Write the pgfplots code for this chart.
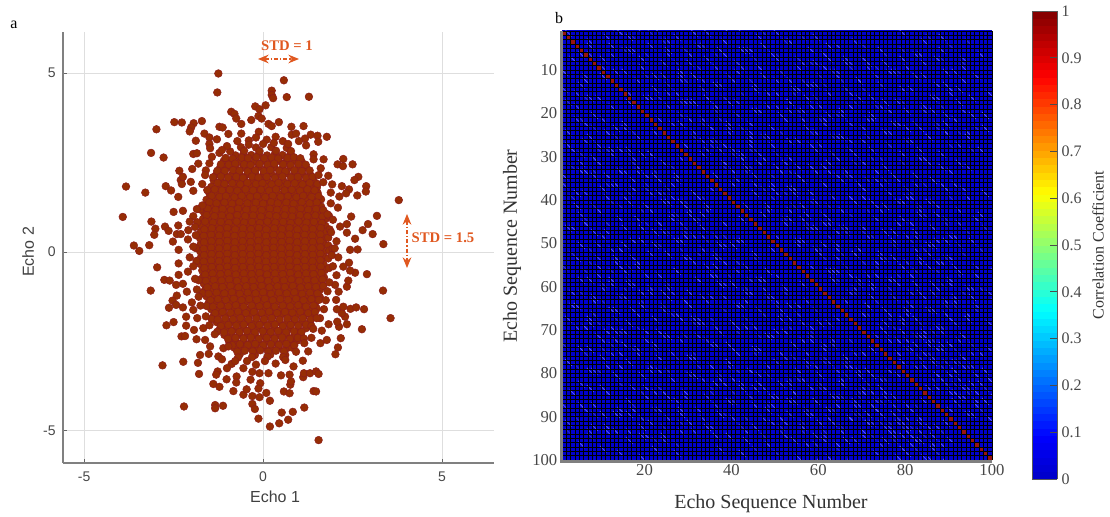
\documentclass[border=0pt]{standalone}
\usepackage{pgfplots}
\usepackage{pgfplotstable}
\usepackage{fontspec}
\setmainfont{Liberation Serif}
\newfontfamily\hel{Liberation Sans}
\pgfplotsset{compat=1.18}
\usetikzlibrary{arrows.meta}
\definecolor{ptfill}{RGB}{150,45,5}
\definecolor{ptedge}{RGB}{140,28,28}
\definecolor{anno}{RGB}{224,88,32}
\definecolor{brightst}{RGB}{85,85,255}
\definecolor{dimst}{RGB}{50,50,205}
\definecolor{diagc}{RGB}{150,20,15}
\newcommand\cellrun[2]{\pgfpathmoveto{\pgfpoint{#1*3.258pt-2.45pt}{#2*3.25pt+2.45pt}}\pgfpathlineto{\pgfpoint{#1*3.258pt+2.45pt}{#2*3.25pt-2.45pt}}}
\pgfdeclareplotmark{runc}{\pgfsetlinewidth{0.6pt}\cellrun{0}{0}\cellrun{4}{1}\cellrun{-2}{-3}\cellrun{-5}{2}\cellrun{3}{-4}\pgfusepathqstroke}
\pgfplotstableread{
x y
-.62 2.93
-.2 2.92
.23 2.93
.66 2.91
-.77 2.7
-.55 2.74
-.33 2.71
-.12 2.73
.11 2.7
.33 2.74
.54 2.71
.76 2.73
-1.1 2.54
-.88 2.56
-.66 2.52
-.44 2.55
-.23 2.53
.01 2.56
.22 2.52
.44 2.55
.65 2.53
.87 2.56
1.08 2.52
-1.2 2.36
-.99 2.38
-.77 2.35
-.55 2.37
-.34 2.34
-.12 2.38
.1 2.35
.32 2.37
.54 2.34
.76 2.38
.98 2.35
1.2 2.37
-1.3 2.18
-1.09 2.2
-.87 2.16
-.66 2.19
-.44 2.17
-.22 2.2
.01 2.16
.23 2.19
.44 2.17
.66 2.2
.88 2.16
1.09 2.19
1.31 2.17
-1.38 2.0
-1.17 1.98
-.95 2.02
-.74 1.99
-.52 2.01
-.3 1.98
-.08 2.02
.13 1.99
.35 2.01
.57 1.98
.79 2.02
1.0 1.99
1.22 2.01
1.42 1.98
-1.45 1.82
-1.25 1.84
-1.04 1.8
-.82 1.83
-.6 1.81
-.38 1.84
-.17 1.8
.05 1.83
.27 1.81
.49 1.84
.7 1.8
.92 1.83
1.14 1.81
1.35 1.84
1.5 1.8
-1.5 1.64
-1.3 1.62
-1.09 1.66
-.87 1.63
-.65 1.65
-.43 1.62
-.22 1.66
0 1.63
.22 1.65
.44 1.62
.65 1.66
.87 1.63
1.09 1.65
1.3 1.62
1.52 1.66
-1.58 1.46
-1.37 1.48
-1.16 1.44
-.94 1.47
-.72 1.45
-.5 1.48
-.29 1.44
-.07 1.47
.15 1.45
.37 1.48
.58 1.44
.8 1.47
1.02 1.45
1.23 1.48
1.45 1.44
1.62 1.47
-1.62 1.28
-1.42 1.26
-1.2 1.3
-.98 1.27
-.77 1.29
-.55 1.26
-.33 1.3
-.11 1.27
.1 1.29
.32 1.26
.54 1.3
.76 1.27
.97 1.29
1.19 1.26
1.41 1.3
1.62 1.27
-1.65 1.1
-1.45 1.12
-1.24 1.08
-1.02 1.11
-.8 1.09
-.58 1.12
-.37 1.08
-.15 1.11
.07 1.09
.29 1.12
.5 1.08
.72 1.11
.94 1.09
1.15 1.12
1.37 1.08
1.59 1.11
1.72 1.09
-1.68 .92
-1.47 .9
-1.26 .94
-1.04 .91
-.82 .93
-.6 .9
-.39 .94
-.17 .91
.05 .93
.27 .9
.48 .94
.7 .91
.92 .93
1.13 .9
1.35 .94
1.57 .91
1.75 .93
-1.72 .74
-1.52 .76
-1.3 .72
-1.08 .75
-.87 .73
-.65 .76
-.43 .72
-.21 .75
0 .73
.22 .76
.44 .72
.66 .75
.87 .73
1.09 .76
1.31 .72
1.52 .75
1.74 .73
-1.74 .56
-1.54 .54
-1.33 .58
-1.11 .55
-.89 .57
-.67 .54
-.46 .58
-.24 .55
-.02 .57
.2 .54
.41 .58
.63 .55
.85 .57
1.06 .54
1.28 .58
1.5 .55
1.72 .57
-1.76 .38
-1.56 .4
-1.35 .36
-1.13 .39
-.91 .37
-.69 .4
-.48 .36
-.26 .39
-.04 .37
.18 .4
.39 .36
.61 .39
.83 .37
1.04 .4
1.26 .36
1.48 .39
1.69 .37
1.82 .4
-1.75 .2
-1.54 .18
-1.33 .22
-1.11 .19
-.9 .21
-.68 .18
-.46 .22
-.24 .19
-.03 .21
.19 .18
.41 .22
.62 .19
.84 .21
1.06 .18
1.28 .22
1.49 .19
1.71 .21
1.82 .18
-1.76 .02
-1.56 .04
-1.35 0
-1.13 .03
-.91 .01
-.69 .04
-.48 0
-.26 .03
-.04 .01
.18 .04
.39 0
.61 .03
.83 .01
1.04 .04
1.26 0
1.48 .03
1.69 .01
1.85 .04
-1.74 -.16
-1.54 -.18
-1.33 -.14
-1.11 -.17
-.9 -.15
-.68 -.18
-.46 -.14
-.24 -.17
-.03 -.15
.19 -.18
.41 -.14
.62 -.17
.84 -.15
1.06 -.18
1.28 -.14
1.49 -.17
1.71 -.15
1.82 -.18
-1.75 -.34
-1.56 -.32
-1.35 -.36
-1.13 -.33
-.91 -.35
-.69 -.32
-.48 -.36
-.26 -.33
-.04 -.35
.18 -.32
.39 -.36
.61 -.33
.83 -.35
1.04 -.32
1.26 -.36
1.48 -.33
1.69 -.35
-1.7 -.52
-1.54 -.54
-1.33 -.5
-1.11 -.53
-.89 -.51
-.67 -.54
-.46 -.5
-.24 -.53
-.02 -.51
.2 -.54
.41 -.5
.63 -.53
.85 -.51
1.06 -.54
1.28 -.5
1.5 -.53
1.72 -.51
-1.68 -.7
-1.52 -.68
-1.3 -.72
-1.08 -.69
-.87 -.71
-.65 -.68
-.43 -.72
-.21 -.69
0 -.71
.22 -.68
.44 -.72
.66 -.69
.87 -.71
1.09 -.68
1.31 -.72
1.52 -.69
1.7 -.71
-1.66 -.88
-1.47 -.9
-1.26 -.86
-1.04 -.89
-.82 -.87
-.6 -.9
-.39 -.86
-.17 -.89
.05 -.87
.27 -.9
.48 -.86
.7 -.89
.92 -.87
1.13 -.9
1.35 -.86
1.57 -.89
-1.62 -1.06
-1.45 -1.04
-1.24 -1.08
-1.02 -1.05
-.8 -1.07
-.58 -1.04
-.37 -1.08
-.15 -1.05
.07 -1.07
.29 -1.04
.5 -1.08
.72 -1.05
.94 -1.07
1.15 -1.04
1.37 -1.08
1.59 -1.05
-1.58 -1.24
-1.42 -1.26
-1.2 -1.22
-.98 -1.25
-.77 -1.23
-.55 -1.26
-.33 -1.22
-.11 -1.25
.1 -1.23
.32 -1.26
.54 -1.22
.76 -1.25
.97 -1.23
1.19 -1.26
1.41 -1.22
1.58 -1.25
-1.52 -1.42
-1.37 -1.4
-1.16 -1.44
-.94 -1.41
-.72 -1.43
-.5 -1.4
-.29 -1.44
-.07 -1.41
.15 -1.43
.37 -1.4
.58 -1.44
.8 -1.41
1.02 -1.43
1.23 -1.4
1.45 -1.44
-1.45 -1.6
-1.3 -1.62
-1.09 -1.58
-.87 -1.61
-.65 -1.59
-.43 -1.62
-.22 -1.58
0 -1.61
.22 -1.59
.44 -1.62
.65 -1.58
.87 -1.61
1.09 -1.59
1.3 -1.62
1.5 -1.58
-1.38 -1.78
-1.25 -1.76
-1.04 -1.8
-.82 -1.77
-.6 -1.79
-.38 -1.76
-.17 -1.8
.05 -1.77
.27 -1.79
.49 -1.76
.7 -1.8
.92 -1.77
1.14 -1.79
1.35 -1.76
-1.3 -1.96
-1.09 -1.98
-.87 -1.94
-.66 -1.97
-.44 -1.95
-.22 -1.98
.01 -1.94
.23 -1.97
.44 -1.95
.66 -1.98
.88 -1.94
1.09 -1.97
1.31 -1.95
-1.2 -2.14
-.99 -2.12
-.77 -2.16
-.55 -2.13
-.34 -2.15
-.12 -2.12
.1 -2.16
.32 -2.13
.54 -2.15
.76 -2.12
.98 -2.16
1.2 -2.13
-1.08 -2.32
-.88 -2.34
-.66 -2.3
-.44 -2.33
-.23 -2.31
.01 -2.34
.22 -2.3
.44 -2.33
.65 -2.31
.87 -2.34
1.05 -2.3
-.95 -2.5
-.77 -2.48
-.55 -2.52
-.33 -2.49
-.12 -2.51
.11 -2.48
.33 -2.52
.54 -2.49
.76 -2.51
.95 -2.48
-.8 -2.68
-.62 -2.7
-.41 -2.66
-.2 -2.69
.02 -2.67
.23 -2.7
.44 -2.66
.66 -2.69
.8 -2.67
-.65 -2.86
-.23 -2.88
.2 -2.87
.62 -2.88
-.92 2.81
-.53 2.83
-.1 2.82
.36 2.83
.78 2.82
-1.05 2.63
-.85 2.61
-.6 2.64
-.42 2.62
-.19 2.65
.03 2.62
.24 2.64
.42 2.61
.68 2.63
.86 2.65
1.04 2.62
-1.18 2.45
-.96 2.44
-.78 2.47
-.53 2.45
-.35 2.43
-.1 2.46
.13 2.44
.31 2.47
.56 2.45
.77 2.43
.99 2.46
1.19 2.44
-1.28 2.27
-1.07 2.26
-.84 2.29
-.66 2.27
-.43 2.25
-.22 2.28
.02 2.26
.2 2.29
.45 2.27
.62 2.25
.87 2.28
1.08 2.26
1.3 2.28
-1.4 2.09
-1.18 2.11
-.98 2.08
-.75 2.1
-.56 2.07
-.31 2.11
-.13 2.08
.1 2.1
.33 2.07
.54 2.11
.78 2.08
.97 2.1
1.2 2.07
1.38 2.1
-1.27 1.93
-1.08 1.9
-.86 1.92
-.64 1.89
-.44 1.93
-.2 1.9
-.02 1.92
.24 1.89
.43 1.93
.68 1.9
.88 1.92
1.1 1.89
1.3 1.93
1.52 1.9
-1.56 1.73
-1.35 1.75
-1.15 1.72
-.93 1.74
-.72 1.71
-.49 1.75
-.28 1.72
-.06 1.74
.17 1.71
.36 1.75
.6 1.72
.8 1.74
1.03 1.71
1.24 1.75
1.44 1.72
-1.44 1.57
-1.22 1.54
-1.04 1.56
-.8 1.53
-.6 1.57
-.36 1.54
-.17 1.56
.06 1.53
.27 1.57
.49 1.54
.69 1.56
.93 1.53
1.12 1.57
1.35 1.54
1.55 1.56
-1.5 1.39
-1.3 1.36
-1.08 1.38
-.87 1.35
-.66 1.39
-.44 1.36
-.2 1.38
0 1.35
.22 1.39
.41 1.36
.65 1.38
.85 1.35
1.08 1.39
1.3 1.36
1.5 1.38
-1.76 1.19
-1.55 1.21
-1.33 1.18
-1.13 1.2
-.9 1.17
-.7 1.21
-.47 1.18
-.26 1.2
-.04 1.17
.19 1.21
.39 1.18
.62 1.2
.82 1.17
1.05 1.21
1.26 1.18
1.48 1.2
1.68 1.17
-1.58 1.03
-1.36 1.0
-1.15 1.02
-.93 .99
-.72 1.03
-.5 1.0
-.28 1.02
-.06 .99
.17 1.03
.37 1.0
.6 1.02
.81 .99
1.03 1.03
1.24 1.0
1.46 1.02
1.66 .99
1.84 1.01
-1.84 .83
-1.62 .85
-1.4 .82
-1.18 .84
-.96 .81
-.74 .85
-.53 .82
-.31 .84
-.09 .81
.12 .85
.34 .82
.56 .84
.77 .81
.99 .85
1.21 .82
1.42 .84
1.64 .81
-1.64 .63
-1.43 .66
-1.21 .64
-1 .67
-.78 .63
-.56 .66
-.34 .64
-.12 .67
.09 .63
.31 .66
.53 .64
.74 .67
.96 .63
1.18 .66
1.39 .64
1.61 .67
1.86 .63
-1.88 .47
-1.66 .45
-1.45 .48
-1.23 .46
-1.01 .49
-.8 .45
-.58 .48
-.36 .46
-.14 .49
.08 .45
.29 .48
.51 .46
.73 .49
.94 .45
1.16 .48
1.38 .46
1.6 .49
-1.65 .27
-1.44 .3
-1.22 .28
-1 .31
-.79 .27
-.57 .3
-.35 .28
-.13 .31
.09 .27
.3 .3
.52 .28
.74 .31
.95 .27
1.17 .3
1.39 .28
1.6 .31
-1.88 .11
-1.66 .09
-1.45 .12
-1.23 .1
-1.01 .13
-.8 .09
-.58 .12
-.36 .1
-.14 .13
.08 .09
.29 .12
.51 .1
.73 .13
.94 .09
1.16 .12
1.38 .1
1.6 .13
1.94 .09
-1.65 -.09
-1.44 -.06
-1.22 -.08
-1 -.05
-.79 -.09
-.57 -.06
-.35 -.08
-.13 -.05
.09 -.09
.3 -.06
.52 -.08
.74 -.05
.95 -.09
1.17 -.06
1.39 -.08
1.6 -.05
1.92 -.09
-1.86 -.25
-1.66 -.27
-1.45 -.24
-1.23 -.26
-1.01 -.23
-.8 -.27
-.58 -.24
-.36 -.26
-.14 -.23
.08 -.27
.29 -.24
.51 -.26
.73 -.23
.94 -.27
1.16 -.24
1.38 -.26
1.6 -.23
-1.64 -.45
-1.43 -.42
-1.21 -.44
-1 -.41
-.78 -.45
-.56 -.42
-.34 -.44
-.12 -.41
.09 -.45
.31 -.42
.53 -.44
.74 -.41
.96 -.45
1.18 -.42
1.39 -.44
1.61 -.41
1.84 -.45
-1.62 -.63
-1.41 -.6
-1.19 -.62
-.98 -.59
-.76 -.63
-.54 -.6
-.32 -.62
-.1 -.59
.11 -.63
.33 -.6
.55 -.62
.76 -.59
.98 -.63
1.2 -.6
1.41 -.62
1.63 -.59
-1.8 -.79
-1.6 -.81
-1.38 -.78
-1.16 -.8
-.95 -.77
-.73 -.81
-.51 -.78
-.29 -.8
-.07 -.77
.14 -.81
.36 -.78
.58 -.8
.79 -.77
1.01 -.81
1.23 -.78
1.44 -.8
1.66 -.77
-1.56 -.99
-1.34 -.96
-1.13 -.98
-.91 -.95
-.69 -.99
-.47 -.96
-.26 -.98
-.04 -.95
.18 -.99
.4 -.96
.61 -.98
.83 -.95
1.05 -.99
1.26 -.96
1.48 -.98
1.68 -.95
-1.7 -1.15
-1.52 -1.17
-1.3 -1.14
-1.08 -1.16
-.87 -1.13
-.65 -1.17
-.43 -1.14
-.21 -1.16
0 -1.13
.22 -1.17
.44 -1.14
.66 -1.16
.87 -1.13
1.09 -1.17
1.31 -1.14
1.52 -1.16
-1.47 -1.35
-1.26 -1.32
-1.04 -1.34
-.82 -1.31
-.6 -1.35
-.39 -1.32
-.17 -1.34
.05 -1.31
.27 -1.35
.48 -1.32
.7 -1.34
.92 -1.31
1.13 -1.35
1.35 -1.32
1.56 -1.34
-1.58 -1.51
-1.4 -1.53
-1.19 -1.5
-.97 -1.52
-.76 -1.49
-.54 -1.53
-.32 -1.5
-.1 -1.52
.11 -1.49
.33 -1.53
.55 -1.5
.76 -1.52
.98 -1.49
1.2 -1.53
1.41 -1.5
-1.34 -1.71
-1.13 -1.68
-.91 -1.7
-.7 -1.67
-.48 -1.71
-.26 -1.68
-.04 -1.7
.17 -1.67
.39 -1.71
.61 -1.68
.82 -1.7
1.04 -1.67
1.26 -1.71
1.45 -1.68
-1.44 -1.87
-1.27 -1.89
-1.06 -1.86
-.84 -1.88
-.63 -1.85
-.41 -1.89
-.19 -1.86
.03 -1.88
.24 -1.85
.46 -1.89
.68 -1.86
.89 -1.88
1.11 -1.85
1.33 -1.89
-1.18 -2.07
-.97 -2.04
-.75 -2.06
-.54 -2.03
-.32 -2.07
-.1 -2.04
.12 -2.06
.33 -2.03
.55 -2.07
.77 -2.04
.98 -2.06
1.2 -2.03
1.35 -2.07
-1.28 -2.23
-1.09 -2.25
-.88 -2.22
-.66 -2.24
-.45 -2.21
-.23 -2.25
-.01 -2.22
.21 -2.24
.42 -2.21
.64 -2.25
.86 -2.22
1.07 -2.24
-.98 -2.43
-.77 -2.4
-.55 -2.42
-.34 -2.39
-.12 -2.43
.1 -2.4
.32 -2.42
.53 -2.39
.75 -2.43
.97 -2.4
1.14 -2.42
-.86 -2.61
-.65 -2.58
-.43 -2.6
-.22 -2.57
0 -2.61
.22 -2.58
.44 -2.6
.65 -2.57
.87 -2.61
-.72 -2.79
-.51 -2.76
-.29 -2.78
-.08 -2.75
.14 -2.79
.36 -2.76
.58 -2.78
.92 -2.79
-.7 -2.95
-.31 -2.94
.12 -2.93
.56 -2.94
}\coretable
\pgfplotstableread{
x y
-1.25 4.99
.58 4.8
-1.28 4.46
.24 4.51
.24 4.39
.28 4.3
.66 4.33
1.28 4.34
-.22 4.07
.07 4.1
-.1 3.99
-.89 3.92
-.8 3.86
-.75 3.73
-.33 3.69
-.13 3.8
-.04 3.73
.44 3.63
-2.48 3.63
-2.27 3.62
-1.71 3.66
-1.94 3.6
-2.01 3.48
-2.05 3.37
-2.98 3.43
-1.22 3.5
-1.13 3.48
-.61 3.58
.15 3.58
.24 3.52
.79 3.5
1.13 3.52
-.12 3.36
-1.64 3.31
-.97 3.3
-.61 3.31
.8 3.28
.92 3.31
1.33 3.28
1.52 3.25
1.78 3.22
1.17 3.17
1.54 3.08
-1.5 3.2
-1.29 3.15
-1.88 3.11
-1.5 3.02
-1.01 2.96
-1.48 2.9
-3.13 2.77
-2.78 2.64
-1.95 2.74
-1.85 2.76
-1.22 2.77
-1.43 2.66
1.41 2.73
1.2 2.98
1.69 2.59
1.41 2.59
2.24 2.6
2.08 2.45
2.23 2.4
2.5 2.45
-1.81 2.47
-1.5 2.48
1.61 2.34
-2.34 2.27
-1.98 2.32
-1.6 2.28
1.82 2.13
2.66 2.1
2.55 2.01
2.88 1.84
2.87 1.69
2.4 1.75
2.32 1.64
2.63 1.58
2.2 1.84
2.13 1.55
1.93 1.89
1.89 1.66
3.79 1.45
2.09 1.24
1.89 1.36
3.18 1.01
2.46 .99
2.93 .78
3.06 .5
2.78 .61
3.36 .22
2.34 .78
2.15 .71
2.34 .54
2.57 .37
2.64 .07
2.43 .06
-3.83 1.83
-3.29 1.66
-2.72 1.84
-2.57 1.72
-2.37 1.54
-2.3 2.01
-2.24 2.1
-2.27 1.9
-2.02 1.96
-1.95 1.71
-3.92 .98
-2.5 1.12
-2.24 1.15
-3.12 .85
-3.01 .65
-3.04 .48
-2.74 .71
-2.64 .59
-2.37 .74
-2.41 .5
-2.3 .5
-2.09 .61
-2.52 .29
-3.61 .18
-3.46 .03
-3.18 .19
-2.36 .06
-2.96 -.43
-2.36 -.32
-2.76 -.78
-2.61 -.8
-2.36 -.64
-2.43 -.92
-2.24 -.89
-3.14 -1.08
-2.41 -1.22
-2.13 -1.11
-2.53 -1.36
-2.43 -1.48
-2.63 -1.56
-2.24 -1.55
-1.99 -1.41
-1.95 -1.62
-2.15 -1.81
-1.84 -1.85
-2.5 -1.96
-2.7 -2.05
-2.15 -2.06
-1.93 -2.18
-2.28 -2.36
-2.18 -2.35
-1.86 -2.44
-1.62 -2.46
-1.67 -2.13
-1.48 -2.64
-1.52 -2.85
-1.76 -2.88
-2.81 -3.17
-2.23 -3.07
-1.82 -3.1
-1.79 -3.41
-1.25 -2.92
-1.11 -2.69
-.97 -2.64
-1.15 -3
-.88 -3.13
-1.01 -3.25
-1.27 -3.34
-1.31 -3.43
-1.02 -3.56
-1.39 -3.69
-1.22 -3.77
-.74 -3.48
-.75 -3.65
-.83 -3.89
-.55 -3.99
-.46 -3.84
-.35 -3.57
-.08 -3.67
-.13 -3.82
-.3 -4.03
-.1 -4.06
.09 -3.94
.19 -4.16
-.3 -4.25
-.23 -4.39
-2.21 -4.32
-1.34 -4.28
-1.34 -4.37
-1.12 -4.3
-.13 -4.66
.52 -4.49
.83 -4.47
1.15 -4.35
.7 -4.69
.45 -4.79
.19 -4.88
1.55 -5.26
.58 -3.9
.74 -3.95
1.41 -3.89
1.48 -3.9
.76 -3.71
.78 -3.62
1.12 -3.5
1.14 -3.39
1.31 -3.39
1.48 -3.34
1.55 -3.41
.5 -3.45
.74 -3.43
.15 -3.39
-.1 -3.39
.85 -3.2
1.11 -3.04
2.02 -2.86
2.09 -2.67
2.17 -2.41
1.6 -2.55
1.78 -2.46
1.26 -2.78
2.76 -2.16
2.12 -2.09
2.34 -2.02
1.83 -2.02
2.07 -1.95
3.56 -1.85
2.29 -1.81
2.2 -1.71
2.06 -1.6
2.24 -1.53
2.44 -1.59
2.6 -1.55
2.82 -1.6
3.35 -1.08
2.04 -1.34
2.11 -1.11
2.34 -.97
2.38 -.8
2.01 -.92
2.9 -.62
2.57 -.58
2.43 -.52
2.4 -.3
2.24 -.41
1.59 -1.85
1.64 -2.2
-.4 3.12
-.2 3.2
.1 3.14
.35 3.22
.55 3.1
-.72 3.1
-.4 3.0
0 3.02
.3 3.05
.7 3.02
1.0 3.1
-1.15 2.85
-.78 -3.05
-.45 -3.05
-.2 -3.15
.05 -3.05
.35 -3.12
.62 -3.02
-.55 -3.25
-.3 -3.35
-1.7 1.3
-1.85 1.2
-1.95 1.0
-2.05 .85
-1.9 .7
-2.1 .35
-1.95 .15
-2.05 -.15
-1.95 -.4
-2.1 -.55
-1.9 -.75
-1.85 -1.05
-1.8 -1.25
-1.75 -1.5
-1.6 -1.8
-1.5 -2.05
-1.35 -2.3
1.8 1.05
1.95 .9
1.9 .55
2.05 .3
2.0 .1
2.1 -.15
1.95 -.4
2.05 -.65
1.85 -.85
1.8 -1.1
1.75 -1.35
1.7 -1.6
1.5 -1.85
1.4 -2.15
1.35 -2.4
1.15 -2.55
-1.7 1.9
-1.62 2.15
1.68 1.95
1.55 2.15
}\outertable
\pgfplotstableread{
a b
3 7
4 21
6 12
8 30
2 46
5 58
9 71
3 84
7 93
12 18
14 33
11 47
15 62
10 76
13 89
18 25
20 41
17 53
22 67
19 80
16 95
24 31
26 44
23 57
28 72
25 85
21 91
31 38
33 51
30 64
35 78
32 88
38 45
40 59
37 70
42 83
39 94
45 52
47 66
44 79
49 87
52 60
54 73
51 82
56 92
60 68
62 77
59 86
64 96
68 75
70 84
67 90
74 81
76 93
73 88
80 87
82 95
79 91
85 92
1 14
2 27
6 38
9 55
4 64
7 79
11 24
13 36
15 50
12 69
17 30
19 46
21 61
18 74
16 86
23 35
27 49
29 63
26 81
30 42
34 55
36 69
33 90
38 50
43 61
41 75
46 58
48 71
45 92
53 64
55 79
50 85
58 69
61 83
57 96
66 76
69 87
63 91
72 80
77 89
75 95
83 93
86 96
1 34
5 43
8 66
10 89
14 55
20 72
24 94
28 40
32 58
36 82
}\brighttable
\pgfplotstableread{
a b
2 17
5 29
8 41
3 52
10 63
6 75
4 90
13 25
16 38
12 56
14 70
19 84
22 33
25 47
21 60
27 76
24 92
29 40
34 49
31 68
37 80
41 54
43 67
40 86
48 62
50 77
47 94
55 66
57 78
53 89
63 73
65 85
61 93
71 82
74 91
78 88
84 94
}\dimtable
\pgfplotstableread{
i
1
2
3
4
5
6
7
8
9
10
11
12
13
14
15
16
17
18
19
20
21
22
23
24
25
26
27
28
29
30
31
32
33
34
35
36
37
38
39
40
41
42
43
44
45
46
47
48
49
50
51
52
53
54
55
56
57
58
59
60
61
62
63
64
65
66
67
68
69
70
71
72
73
74
75
76
77
78
79
80
81
82
83
84
85
86
87
88
89
90
91
92
93
94
95
96
97
98
99
}\diagtable
\pgfplotstableread[row sep=\\]{
c\\
5\\6\\4\\5\\6\\5\\7\\5\\4\\6\\5\\6\\4\\5\\7\\5\\6\\4\\5\\6\\5\\
6\\7\\5\\6\\4\\6\\5\\6\\5\\4\\6\\5\\7\\5\\4\\6\\5\\6\\4\\7\\5\\
4\\5\\8\\7\\5\\4\\6\\7\\5\\6\\5\\4\\6\\5\\8\\6\\5\\4\\6\\5\\4\\
5\\4\\6\\8\\6\\5\\7\\5\\4\\5\\7\\6\\5\\4\\6\\5\\7\\6\\5\\6\\5\\
6\\5\\4\\6\\7\\6\\4\\5\\6\\7\\5\\4\\6\\7\\5\\4\\6\\5\\7\\5\\6\\
5\\6\\5\\4\\6\\8\\6\\4\\5\\6\\4\\5\\7\\6\\4\\5\\6\\7\\5\\4\\5\\
7\\5\\6\\5\\4\\6\\7\\5\\6\\4\\5\\6\\5\\4\\7\\6\\5\\4\\6\\5\\7\\
5\\4\\7\\6\\5\\4\\5\\8\\6\\5\\6\\4\\5\\7\\6\\5\\4\\6\\5\\7\\4\\
4\\6\\5\\7\\6\\5\\4\\6\\7\\5\\4\\6\\5\\7\\5\\4\\6\\5\\6\\4\\5\\
6\\5\\4\\5\\6\\7\\5\\4\\5\\8\\6\\5\\4\\6\\5\\7\\6\\5\\4\\7\\6\\
5\\7\\6\\4\\5\\6\\4\\6\\5\\6\\7\\5\\6\\4\\5\\6\\4\\7\\5\\6\\5\\
6\\4\\5\\7\\6\\4\\5\\7\\6\\4\\5\\8\\6\\5\\4\\6\\5\\4\\6\\5\\7\\
4\\5\\6\\5\\7\\6\\5\\4\\5\\6\\4\\6\\7\\5\\6\\4\\7\\5\\6\\4\\5\\
5\\7\\4\\6\\5\\4\\6\\5\\7\\5\\6\\5\\4\\8\\6\\5\\6\\4\\5\\7\\6\\
6\\5\\6\\4\\5\\7\\5\\6\\4\\6\\5\\7\\5\\6\\7\\4\\5\\6\\5\\4\\5\\
5\\4\\7\\6\\4\\5\\6\\4\\5\\7\\4\\6\\5\\4\\5\\6\\8\\5\\4\\6\\7\\
7\\6\\5\\4\\7\\6\\5\\7\\6\\5\\4\\5\\6\\7\\5\\4\\6\\7\\5\\6\\5\\
4\\5\\6\\7\\5\\4\\6\\5\\4\\6\\7\\5\\4\\6\\5\\7\\5\\4\\8\\6\\4\\
6\\4\\5\\6\\4\\5\\7\\6\\5\\4\\5\\6\\7\\5\\4\\6\\5\\7\\6\\5\\6\\
5\\7\\6\\4\\5\\7\\6\\4\\6\\5\\7\\4\\5\\6\\7\\5\\6\\4\\5\\7\\5\\
6\\5\\4\\6\\7\\5\\4\\5\\6\\7\\5\\6\\4\\5\\6\\4\\5\\7\\6\\5\\4\\
}\bgtable
\begin{document}
\begin{tikzpicture}
\path[use as bounding box] (0,0) rectangle (832.5pt,387.75pt);
% panel a
\begin{axis}[at={(47.25pt,40.5pt)},anchor=south west,scale only axis,width=323.25pt,height=323.25pt,
 xmin=-5.59,xmax=6.45,ymin=-5.9,ymax=6.15,
 axis x line*=bottom,axis y line*=left,axis line style={-,draw=black!50,line width=1.4pt},
 xtick={-5,0,5},ytick={-5,0,5},xticklabels={-5,0,5},yticklabels={-5,0,5},
 tick align=inside,major tick length=3pt,tick style={black!60,line width=.5pt},
 grid=major,major grid style={black!13,line width=.7pt},
 ticklabel style={font=\hel\fontsize{10.5}{12}\selectfont,text=black!72},
 xticklabel style={yshift=-3pt},yticklabel style={xshift=-2pt},
 xlabel={\hel\fontsize{12}{14}\selectfont Echo 1},ylabel={\hel\fontsize{12}{14}\selectfont Echo 2},
 xlabel style={at={(axis description cs:.492,-.079)},anchor=center,text=black!75},
 ylabel style={at={(axis description cs:-.081,.49)},anchor=center,rotate=0,text=black!75},
 clip=false]
\addplot[only marks,mark=*,mark size=2.9pt,mark options={fill=ptfill,draw=ptedge,line width=.35pt}] table[x=x,y=y]{\coretable};
\addplot[only marks,mark=*,mark size=2.9pt,mark options={fill=ptfill,draw=ptedge,line width=.35pt}] table[x=x,y=y]{\outertable};
\end{axis}
% panel b
\begin{axis}[at={(421.5pt,42.75pt)},anchor=south west,scale only axis,width=322.5pt,height=321.75pt,
 xmin=1,xmax=100,ymin=1,ymax=100,y dir=reverse,
 axis on top,axis line style={draw=none},clip marker paths=true,
 colormap={cjet}{rgb(0pt)=(0,0,.78); rgb(9pt)=(0,0,1); rgb(36pt)=(0,1,1); rgb(61pt)=(1,1,0); rgb(86pt)=(1,0,0); rgb(100pt)=(.5,0,0)},
 point meta min=0,point meta max=1,
 xtick={20,40,60,80,100},ytick={10,20,...,100},
 minor xtick={1,2,...,100},minor ytick={1,2,...,100},
 xtick pos=lower,xticklabel pos=lower,ytick pos=lower,yticklabel pos=lower,
 tick align=inside,major tick length=3.5pt,minor tick length=0pt,tick style={black,line width=.5pt},
 grid=both,major grid style={black,line width=.42pt},minor grid style={black,line width=.42pt},
 /pgf/number format/assume math mode=true,
 ticklabel style={font=\fontsize{12.5}{14}\selectfont,text=black!72},
 xlabel={\fontsize{15}{17}\selectfont Echo Sequence Number},ylabel={\fontsize{15}{17}\selectfont Echo Sequence Number},
 xlabel style={at={(axis description cs:.486,-.1026)},anchor=center,text=black!80},
 ylabel style={at={(axis description cs:-.116,.4988)},anchor=center,text=black!80},
 colorbar sampled,
 colorbar style={samples=65,at={(1.093,-.0443)},anchor=south west,width=18.75pt,height=351pt,axis on top,
  ytick={0,.1,.2,.3,.4,.5,.6,.7,.8,.9,1},yticklabels={0,0.1,0.2,0.3,0.4,0.5,0.6,0.7,0.8,0.9,1},
  ytick pos=right,yticklabel pos=right,ticklabel style={font=\fontsize{12}{14}\selectfont,text=black!72},
  tick align=inside,major tick length=5pt,tick style={black!70,line width=.6pt},
  axis line style={draw=black!65,line width=.7pt},
  ylabel={\fontsize{12}{14}\selectfont Correlation Coefficient},
  ylabel style={at={(axis description cs:2.64,.5)},anchor=center,rotate=0,text=black!80}},
 ]
\addplot[matrix plot*,mesh/cols=21,point meta=explicit] table[x=c,y=c,x expr={mod(\coordindex,21)*5+1},y expr={floor(\coordindex/21)*5+1},meta expr={\thisrow{c}/500}]{\bgtable};
\addplot[only marks,mark=runc,brightst] table[x expr={\thisrow{a}+.5},y expr={\thisrow{b}+.5}]{\brighttable};
\addplot[only marks,mark=runc,brightst] table[x expr={\thisrow{b}+.5},y expr={\thisrow{a}+.5}]{\brighttable};
\addplot[only marks,mark=runc,dimst] table[x expr={\thisrow{a}+.5},y expr={\thisrow{b}+.5}]{\dimtable};
\addplot[only marks,mark=runc,dimst] table[x expr={\thisrow{b}+.5},y expr={\thisrow{a}+.5}]{\dimtable};
\addplot[only marks,mark=square*,mark size=1.6pt,diagc,mark options={draw=none,fill=diagc}] table[x=i,y=i,x expr={\thisrow{i}+.5},y expr={\thisrow{i}+.5}]{\diagtable};
\end{axis}
\begin{scope}[x=.75pt,y=-.75pt,shift={(0pt,387.75pt)}]
\draw[black!50,line width=1.6pt] (561.5,31)--(561.5,461.5)--(992,461.5);
\node[font=\fontsize{12}{14}\selectfont] at (14,25) {a};
\node[font=\fontsize{12}{14}\selectfont] at (559,18) {b};
\node[font=\bfseries\fontsize{11}{13}\selectfont,text=anno] at (287,46) {STD = 1};
\node[font=\bfseries\fontsize{11}{13}\selectfont,text=anno] at (443,238) {STD = 1.5};
\draw[{Stealth[length=8pt,width=6.5pt]}-{Stealth[length=8pt,width=6.5pt]},anno,line width=.9pt,dash pattern=on 3pt off 1.5pt on 1pt off 1.5pt] (258,59)--(299,59);
\draw[{Stealth[length=8pt,width=6.5pt]}-{Stealth[length=8pt,width=6.5pt]},anno,line width=.9pt,dash pattern=on 3pt off 1.5pt on 1pt off 1.5pt] (407,214)--(407,268);
\end{scope}
\end{tikzpicture}
\end{document}
